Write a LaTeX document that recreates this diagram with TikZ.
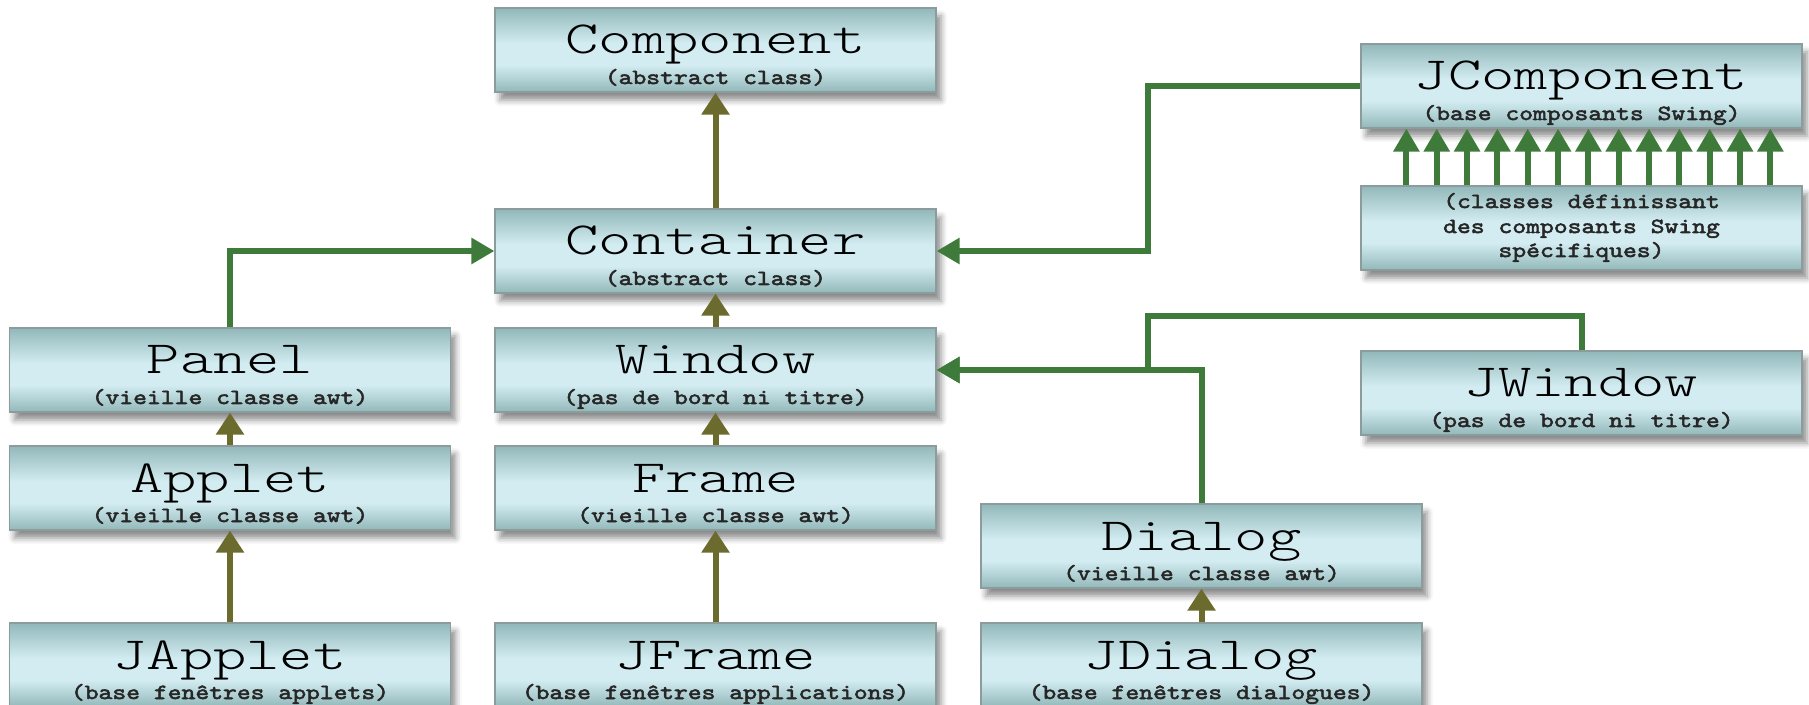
\documentclass[tikz,border=0pt]{standalone}
\usepackage{fontspec}
\usetikzlibrary{arrows.meta,shadows.blur}
\newfontfamily\ttlfont[FakeStretch=1.38]{Latin Modern Mono Light}
\newfontfamily\subfont[FakeStretch=1.22,FakeBold=2.4]{Latin Modern Mono}

\definecolor{olivearrow}{RGB}{108,107,46}
\definecolor{greenarrow}{RGB}{62,122,58}
\definecolor{boxdark}{RGB}{146,184,186}
\definecolor{boxlight}{RGB}{210,236,241}
\definecolor{boxedge}{RGB}{140,156,156}

% vertical gradient of the class boxes: darker at top and bottom, light band in the middle
\pgfdeclareverticalshading{classshade}{100bp}{color(0bp)=(boxdark); color(25bp)=(boxdark); color(41bp)=(boxlight); color(54bp)=(boxlight); color(75bp)=(boxdark); color(100bp)=(boxdark)}

\tikzset{
  cbox/.style={draw=boxedge, line width=0.6pt, shading=classshade,
    minimum width=220.5pt, minimum height=42pt, inner sep=0pt,
    blur shadow={shadow xshift=2.5pt, shadow yshift=-4pt, shadow blur radius=3pt, shadow opacity=45}},
  ttl/.style={font=\ttlfont\fontsize{23pt}{26pt}\selectfont, inner sep=0pt, anchor=base},
  sub/.style={font=\subfont\fontsize{10.8pt}{12pt}\selectfont, inner sep=0pt, anchor=base, text=black!85},
  oarrow/.style={draw=olivearrow, line width=3pt, -{Triangle[width=13.5pt,length=11pt]}},
  garrow/.style={draw=greenarrow, line width=3pt, -{Triangle[width=12.5pt,length=11.5pt]}},
}

% class box: name, centre x, top y, class name, remark
\newcommand\classbox[5]{%
  \node[cbox] (#1) at (#2,#3+42) {};
  \node[ttl] (#1-t) at (#2,#3+46) {#4};
  \node[sub] (#1-s) at (#2,#3+76) {#5};
}

\begin{document}
\begin{tikzpicture}[x=0.5pt,y=-0.5pt]
\useasboundingbox (0,0) rectangle (1809,705);

% AWT hierarchy
\classbox{component}{715.5}{8}{Component}{(abstract class)}
\classbox{container}{715.5}{209}{Container}{(abstract class)}
\classbox{panel}{230}{328}{Panel}{(vieille classe awt)}
\classbox{window}{715.5}{328}{Window}{(pas de bord ni titre)}
\classbox{applet}{230}{446}{Applet}{(vieille classe awt)}
\classbox{frame}{715.5}{446}{Frame}{(vieille classe awt)}
\classbox{dialog}{1201.5}{504}{Dialog}{(vieille classe awt)}

% Swing classes
\classbox{japplet}{230}{623}{JApplet}{(base fenêtres applets)}
\classbox{jframe}{715.5}{623}{JFrame}{(base fenêtres applications)}
\classbox{jdialog}{1201.5}{623}{JDialog}{(base fenêtres dialogues)}
\classbox{jcomp}{1581.5}{44}{JComponent}{(base composants Swing)}
\classbox{jwindow}{1581.5}{351}{JWindow}{(pas de bord ni titre)}

% box of the specific Swing components
\node[cbox] (spec) at (1581.5,186+42) {};
\node[sub] (spec-1) at (1581.5,208) {(classes définissant};
\node[sub] (spec-2) at (1581.5,233) {des composants Swing};
\node[sub] (spec-3) at (1581.5,257) {spécifiques)};

% AWT inheritance
\draw[oarrow] (container.north) -- (component.south);
\draw[oarrow] (window.north) -- (container.south);
\draw[oarrow] (frame.north) -- (window.south);
\draw[oarrow] (applet.north) -- (panel.south);
\draw[oarrow] (japplet.north) -- (applet.south);
\draw[oarrow] (jframe.north) -- (frame.south);
\draw[oarrow] (jdialog.north) -- (dialog.south);

% links into Container and Window
\coordinate (bus) at (1148,316);
\draw[garrow] (panel.north) |- (container.west);
\draw[garrow] (jcomp.west) -| (bus |- container.east) -- (container.east);
\draw[garrow] (jwindow.north) |- (bus) |- (window.east);
\draw[garrow] (dialog.north) |- (window.east);

% many specific components derive from JComponent
\foreach \i in {0,...,12}{
  \path (spec.north west) ++(46+30.33*\i,0) coordinate (s\i);
  \draw[garrow] (s\i) -- (s\i |- jcomp.south);
}
\end{tikzpicture}
\end{document}
